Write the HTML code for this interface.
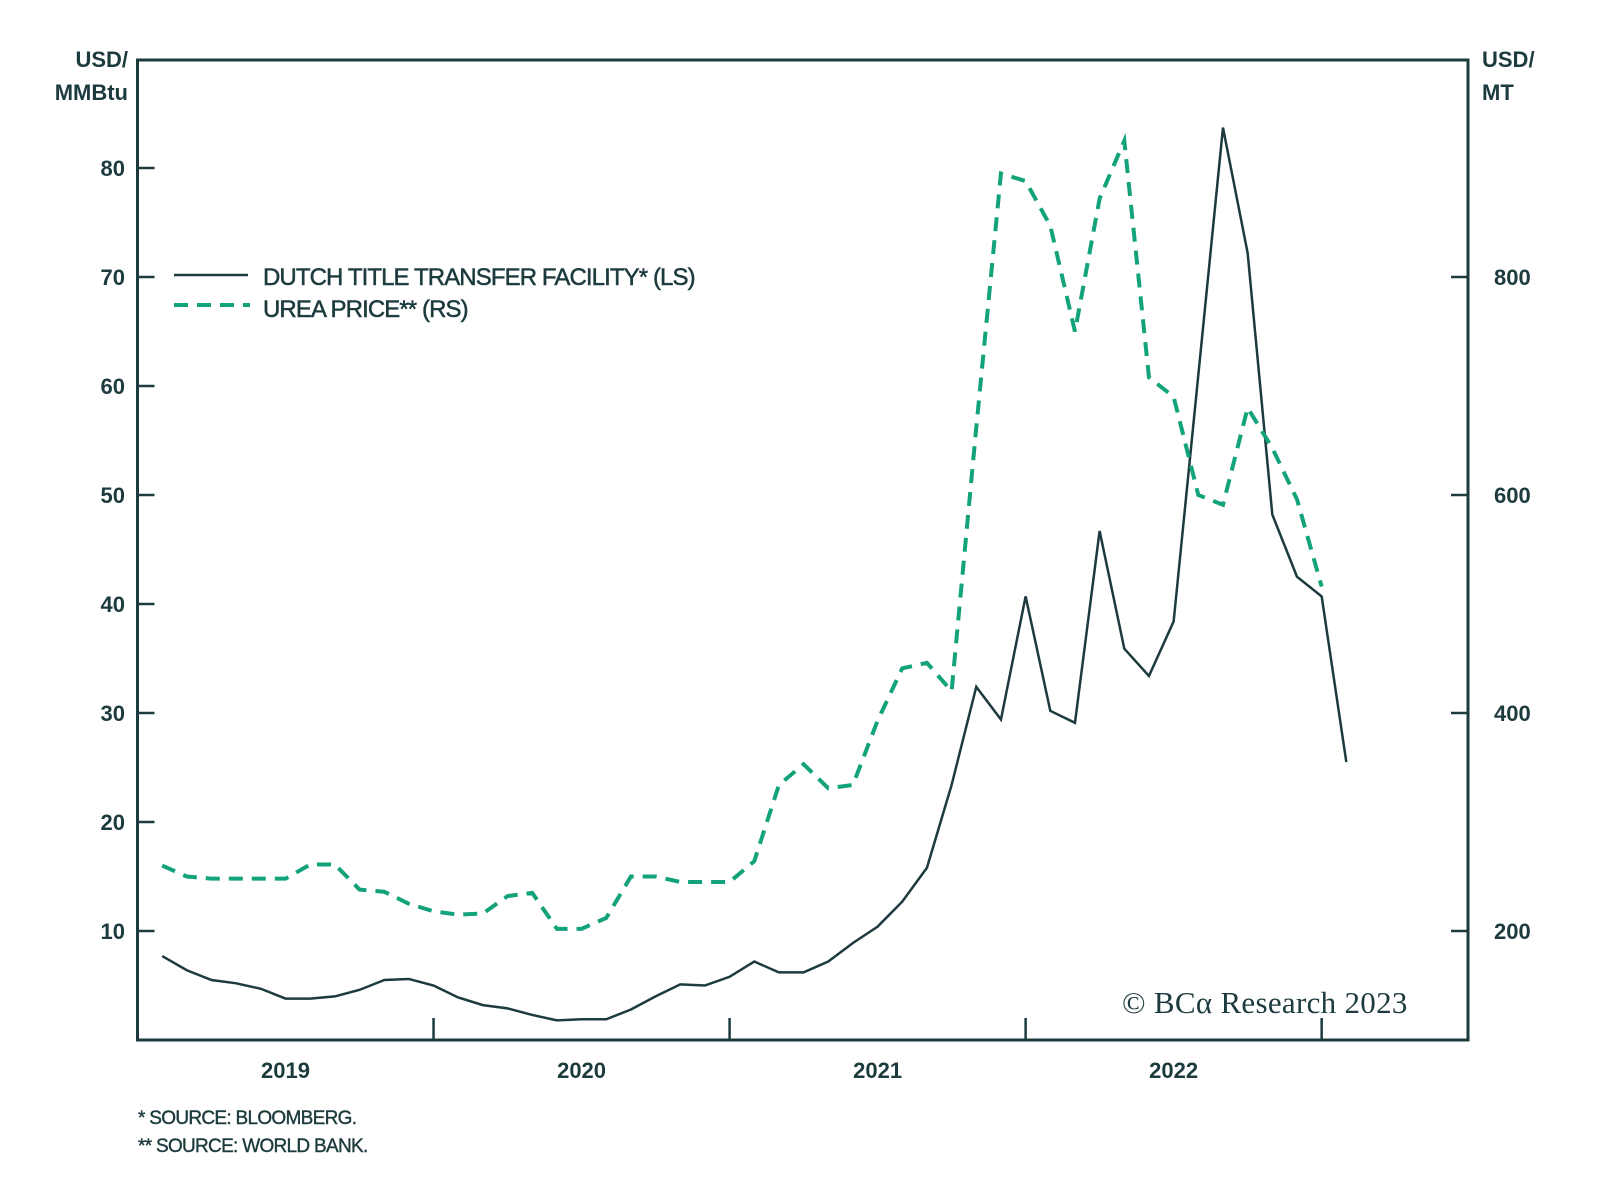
<!DOCTYPE html>
<html><head><meta charset="utf-8"><style>
html,body{margin:0;padding:0;background:#fff;}
svg{display:block;}
text{font-family:"Liberation Sans",sans-serif;fill:#1d3b3e;}
.t{font-size:22px;font-weight:bold;}
.lg{font-size:24px;letter-spacing:-0.9px;stroke:#1d3b3e;stroke-width:0.5px;}
.fn{font-size:19px;letter-spacing:-0.7px;stroke:#1d3b3e;stroke-width:0.4px;}
</style></head><body>
<svg id="chart" width="1600" height="1191" viewBox="0 0 1600 1191">
<g id="axes"></g>
<g id="series"></g>
<g>
<line x1="174" y1="275" x2="248" y2="275" stroke="#1d3b3e" stroke-width="2.5"/>
<text x="263" y="285" class="lg">DUTCH TITLE TRANSFER FACILITY* (LS)</text>
<line x1="174" y1="305" x2="250" y2="305" stroke="#13a37a" stroke-width="4" stroke-dasharray="14,9"/>
<text x="263" y="317" class="lg">UREA PRICE** (RS)</text>
</g>
<text x="128" y="67" class="t" text-anchor="end">USD/</text>
<text x="128" y="100" class="t" text-anchor="end">MMBtu</text>
<text x="1482" y="67" class="t">USD/</text>
<text x="1482" y="100" class="t">MT</text>
<text x="1122" y="1013" style="font-family:'Liberation Serif',serif;font-size:31px;letter-spacing:0.3px">© BCα Research 2023</text>
<text x="138" y="1124" class="fn">* SOURCE: BLOOMBERG.</text>
<text x="138" y="1152" class="fn">** SOURCE: WORLD BANK.</text>
</svg>
<script>
const leftTicks=[10,20,30,40,50,60,70,80];
const rightTicks=[200,400,600,800];
const years=["2019","2020","2021","2022"];
const dttf=[7.7,6.4,5.5,5.2,4.7,3.8,3.8,4.0,4.6,5.5,5.6,5.0,3.9,3.2,2.9,2.3,1.8,1.9,1.9,2.8,4.0,5.1,5.0,5.8,7.2,6.2,6.2,7.2,8.9,10.4,12.7,15.8,23.4,32.4,29.4,40.7,30.2,29.1,46.7,35.9,33.4,38.4,61,83.7,72.2,48.2,42.5,40.7,25.5];
const urea=[260,250,248,248,248,248,261,261,238,236,225,218,215,216,232,235,202,202,212,250,250,245,245,245,264,334,353,331,334,393,441,446,420,662,895,888,847,750,872,925,708,690,600,591,680,643,596,516];

const NS="http://www.w3.org/2000/svg";
const X0=137.5,X1=1468,Y0=60,YB=1040,MPX=24.67;
const xM=m=>X0+m*MPX;
const yL=v=>YB-10.9*v;
const yR=v=>yL((v-100)/10);
function mk(tag,attrs,parent){const e=document.createElementNS(NS,tag);for(const k in attrs)e.setAttribute(k,attrs[k]);parent.appendChild(e);return e;}
const ax=document.getElementById('axes');
const frame=mk('rect',{x:X0,y:Y0,width:X1-X0,height:YB-Y0,fill:'none',stroke:'#1d3b3e','stroke-width':3},ax);


leftTicks.forEach(v=>{
  const l=mk('line',{x1:X0,x2:X0+17,y1:yL(v),y2:yL(v),stroke:'#1d3b3e','stroke-width':2.5},ax);
  
  
  const t=mk('text',{x:125,y:yL(v)+8,'text-anchor':'end',class:'t'},ax);t.textContent=v;
  
  
});
rightTicks.forEach(v=>{
  const l=mk('line',{x1:X1-17,x2:X1,y1:yR(v),y2:yR(v),stroke:'#1d3b3e','stroke-width':2.5},ax);
  
  
  const t=mk('text',{x:1494,y:yR(v)+8,class:'t'},ax);t.textContent=v;
  
  
});
years.forEach((y,i)=>{
  const xt=xM((i+1)*12);
  const l=mk('line',{x1:xt,x2:xt,y1:YB-22,y2:YB,stroke:'#1d3b3e','stroke-width':2.5},ax);
  
  
  const t=mk('text',{x:xM(i*12+6),y:1078,'text-anchor':'middle',class:'t'},ax);t.textContent=y;
  
  
});
const sr=document.getElementById('series');
const p1=mk('polyline',{points:dttf.map((v,i)=>xM(i+1)+','+yL(v)).join(' '),fill:'none',stroke:'#1d3b3e','stroke-width':2.5,'stroke-linejoin':'miter'},sr);


const p2=mk('polyline',{points:urea.map((v,i)=>xM(i+1)+','+yR(v)).join(' '),fill:'none',stroke:'#13a37a','stroke-width':4,'stroke-dasharray':'14,9'},sr);


</script>
</body></html>
